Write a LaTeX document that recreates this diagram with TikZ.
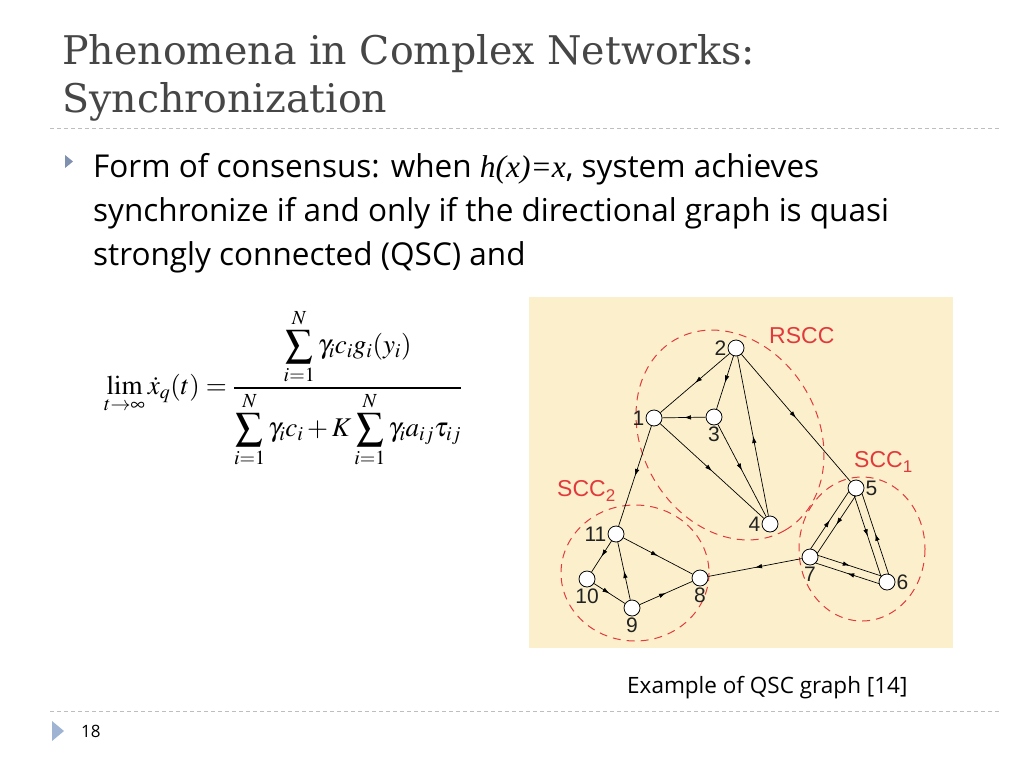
\documentclass[tikz,border=0pt]{standalone}
\usepackage{mathptmx}
\usepackage[no-math]{fontspec}
\setmainfont{Open Sans}
\newfontfamily\titlefont{DejaVu Serif}
\newfontfamily\timesfont{Liberation Serif}
\newfontfamily\graphfont{Liberation Sans}
\usepackage{tikz}
\usetikzlibrary{positioning,calc,arrows.meta,decorations.markings}
\definecolor{titlegrey}{RGB}{70,70,70}
\definecolor{sepgrey}{RGB}{190,190,190}
\definecolor{bulletblue}{RGB}{128,145,175}
\definecolor{pageblue}{RGB}{158,180,210}
\definecolor{panelcream}{RGB}{252,240,204}
\definecolor{sccred}{RGB}{226,58,60}
\definecolor{graphtext}{RGB}{34,34,34}

\begin{document}
\begin{tikzpicture}[x=1pt, y=-1pt, vertex/.style={circle, draw=black, fill=white, line width=0.8pt, minimum size=16pt, inner sep=0pt, label distance=2pt}, num/.style={font=\graphfont\fontsize{21}{21}\selectfont, text=graphtext, inner sep=1pt}, edge/.style={draw=black, line width=0.7pt, postaction={decorate}, decoration={markings, mark=at position 0.5 with {\arrow{Latex[length=7pt,width=4.5pt]}}}}, pair/.style={edge, shorten <=7pt, shorten >=7pt}, scc/.style={draw=sccred, line width=1pt, dash pattern=on 8pt off 6pt}, scclabel/.style={font=\graphfont\fontsize{23}{23}\selectfont, text=sccred, inner sep=0pt}, sep/.style={draw=sepgrey, line width=0.8pt, dash pattern=on 4pt off 3pt}, bodyline/.style={anchor=base west, inner sep=0pt, font=\fontsize{31.5}{31.5}\selectfont}]
\useasboundingbox[fill=white] (0,0) rectangle (1024,768);
\node[anchor=base west, inner sep=0pt, font=\titlefont\fontsize{39.5}{39.5}\selectfont, text=titlegrey] (title1) at (62,64) {Phenomena in Complex Networks:};
\node[anchor=base west, inner sep=0pt, font=\titlefont\fontsize{39.5}{39.5}\selectfont, text=titlegrey] (title2) at (62,112) {Synchronization};
\draw[sep] (50,128) -- (1000,128);
\fill[bulletblue] (65,155) -- (73,161.5) -- (65,168) -- cycle;
\node[bodyline] (line1) at (93,177) {Form of consensus: when {\timesfont\itshape h(x)=x}, system achieves};
\node[bodyline] (line2) at (93,221) {synchronize if and only if the directional graph is quasi};
\node[bodyline] (line3) at (93,265) {strongly connected (QSC) and};
\node[anchor=west, inner sep=0pt] (formula) at (104,388) {\fontsize{27}{32}\selectfont$\displaystyle\lim_{t\to\infty}\dot{x}_q(t)=\frac{\displaystyle\sum_{i=1}^{N}\gamma_i c_i g_i(y_i)}{\displaystyle\sum_{i=1}^{N}\gamma_i c_i+K\sum_{i=1}^{N}\gamma_i a_{ij}\tau_{ij}}$};
\fill[panelcream] (529,297) rectangle (953,648);
\draw[scc, rotate around={-60:(730,435)}] (730,435) ellipse [x radius=110, y radius=88];
\draw[scc] (862,549) ellipse [x radius=63, y radius=72];
\draw[scc] (635,573) ellipse [x radius=74, y radius=68];
\node[scclabel, anchor=base west] (rscc) at (769,343) {RSCC};
\node[scclabel, anchor=base west] (scc1) at (854,467) {SCC\raisebox{-5pt}{\fontsize{17}{17}\selectfont 1}};
\node[scclabel, anchor=base west] (scc2) at (557,496) {SCC\raisebox{-5pt}{\fontsize{17}{17}\selectfont 2}};
\node[vertex, label={[num]left:2}] (n2) at (736,348) {};
\node[vertex, label={[num]left:1}] (n1) at (654,418) {};
\node[vertex, label={[num]below:3}] (n3) at (714,417) {};
\node[vertex, label={[num]left:4}] (n4) at (770,524) {};
\node[vertex, label={[num]right:5}] (n5) at (856,488) {};
\node[vertex, label={[num]right:6}] (n6) at (887,582) {};
\node[vertex, label={[num]below:7}] (n7) at (810,557) {};
\node[vertex, label={[num]below:8}] (n8) at (700,578) {};
\node[vertex, label={[num]below:9}] (n9) at (632,608) {};
\node[vertex, label={[num]below:10}] (n10) at (587,579) {};
\node[vertex, label={[num]left:11}] (n11) at (616,534) {};
\draw[edge] (n2) -- (n1);
\draw[edge] (n2) -- (n3);
\draw[edge] (n4) -- (n2);
\draw[edge] (n2) -- (n5);
\draw[edge] (n3) -- (n1);
\draw[edge] (n1) -- (n4);
\draw[edge] (n3) -- (n4);
\draw[edge] (n1) -- (n11);
\draw[edge] (n11) -- (n10);
\draw[edge] (n10) -- (n9);
\draw[edge] (n9) -- (n11);
\draw[edge] (n11) -- (n8);
\draw[edge] (n9) -- (n8);
\draw[edge] (n7) -- (n8);
\draw[pair] ($(n7)!4pt!90:(n5)$) -- ($(n5)!4pt!-90:(n7)$);
\draw[pair] ($(n5)!4pt!90:(n7)$) -- ($(n7)!4pt!-90:(n5)$);
\draw[pair] ($(n5)!4pt!-90:(n6)$) -- ($(n6)!4pt!90:(n5)$);
\draw[pair] ($(n6)!4pt!-90:(n5)$) -- ($(n5)!4pt!90:(n6)$);
\draw[pair] ($(n7)!4pt!90:(n6)$) -- ($(n6)!4pt!-90:(n7)$);
\draw[pair] ($(n6)!4pt!90:(n7)$) -- ($(n7)!4pt!-90:(n6)$);
\node[anchor=base west, inner sep=0pt, font=\fontsize{22.5}{22.5}\selectfont] (caption) at (627,693) {Example of QSC graph [14]};
\draw[sep] (50,711) -- (1000,711);
\fill[pageblue] (52,721) -- (64,731) -- (52,741) -- cycle;
\node[anchor=base west, inner sep=0pt, font=\fontsize{17}{17}\selectfont] (pagenum) at (81,737) {18};
\end{tikzpicture}
\end{document}
